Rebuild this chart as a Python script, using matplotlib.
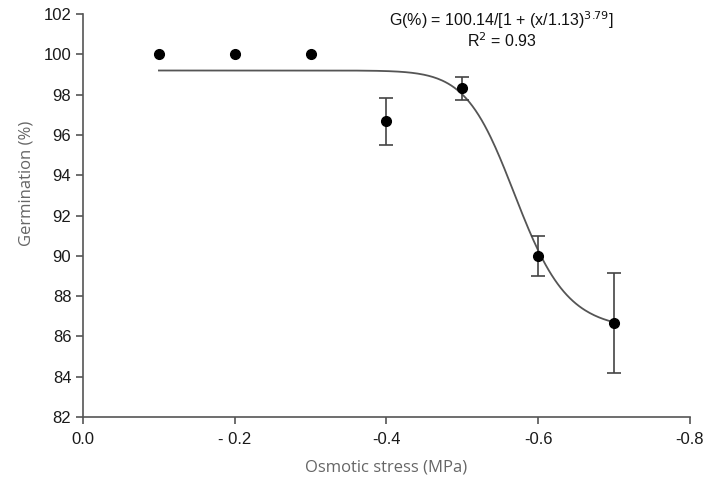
import numpy as np
import matplotlib
matplotlib.use("Agg")
import matplotlib.pyplot as plt

# Data (osmotic stress magnitude, MPa)
stress = [0.1, 0.2, 0.3, 0.4, 0.5, 0.6, 0.7]
germination = [100.0, 100.0, 100.0, 96.67, 98.33, 90.0, 86.67]
err_upper = [0.0, 0.0, 0.0, 1.17, 0.57, 1.0, 2.5]
err_lower = [0.0, 0.0, 0.0, 1.17, 0.58, 1.0, 2.5]

xticks = [0.0, 0.2, 0.4, 0.6, 0.8]
xticklabels = ["0.0", "- 0.2", "-0.4", "-0.6", "-0.8"]
yticks = [82, 84, 86, 88, 90, 92, 94, 96, 98, 100, 102]

# fitted sigmoid curve parameters (shape)
fit_top, fit_bottom, fit_x50, fit_slope = 99.2, 86.3, 0.572, 17.0

fig = plt.figure(figsize=(7.04, 4.86), dpi=100)
ax = fig.add_axes([0.118, 0.142, 0.862, 0.829])

xs = np.linspace(stress[0], stress[-1], 300)
ys = fit_bottom + (fit_top - fit_bottom) / (1 + (xs / fit_x50) ** fit_slope)
ax.plot(xs, ys, color="#555555", lw=1.3, zorder=2)

sx = np.array(stress)
sy = np.array(germination)
eu = np.array(err_upper)
el = np.array(err_lower)
has_err = (eu > 0) | (el > 0)
ax.errorbar(sx[has_err], sy[has_err], yerr=[el[has_err], eu[has_err]], fmt="none",
            ecolor="#444444", elinewidth=1.2, capsize=5, capthick=1.2, zorder=3)
ax.plot(sx, sy, "o", color="black", ms=7, zorder=4)

ax.set_xlim(0, 0.8)
ax.set_ylim(82, 102)
ax.set_xticks(xticks)
ax.set_xticklabels(xticklabels)
ax.set_yticks(yticks)
for s in ["top", "right"]:
    ax.spines[s].set_visible(False)
for s in ["left", "bottom"]:
    ax.spines[s].set_color("#555555")
    ax.spines[s].set_linewidth(1.2)
ax.tick_params(axis="both", colors="#555555", length=5, width=1.2,
               labelsize=12, labelcolor="#1a1a1a")
for lbl in ax.get_xticklabels() + ax.get_yticklabels():
    lbl.set_family(["Liberation Sans", "DejaVu Sans"])
ax.tick_params(axis="x", pad=6)

ax.set_xlabel("Osmotic stress (MPa)", fontsize=12, color="#666666",
              family=["Open Sans", "DejaVu Sans"], labelpad=9)
ax.set_ylabel("Germination (%)", fontsize=12, color="#666666",
              family=["Open Sans", "DejaVu Sans"])
ax.yaxis.set_label_coords(-0.08, 0.58)

txt_family = ["Liberation Sans", "DejaVu Sans"]
ax.text(0.69, 0.985, "G(%) = 100.14/[1 + (x/1.13)$^{3.79}$]",
        transform=ax.transAxes, ha="center", va="center", fontsize=11.5,
        color="#111111", family=txt_family)
ax.text(0.69, 0.935, "R$^{2}$ = 0.93",
        transform=ax.transAxes, ha="center", va="center", fontsize=11.5,
        color="#111111", family=txt_family)

fig.savefig("out.png", dpi=100)
